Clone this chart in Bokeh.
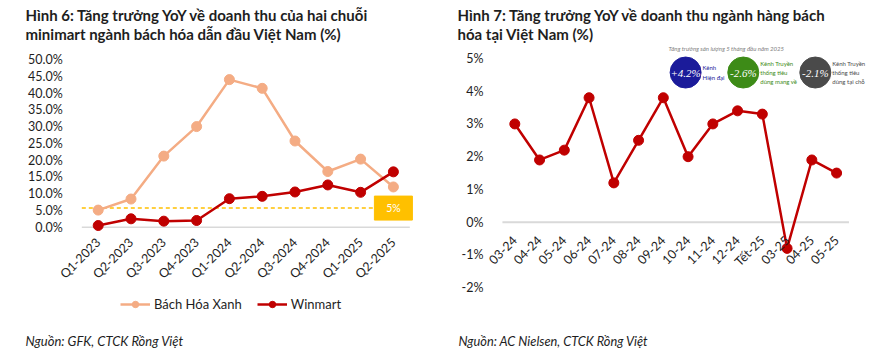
from math import pi
from bokeh.plotting import figure
from bokeh.layouts import row
from bokeh.models import (Range1d, PrintfTickFormatter, FixedTicker, Label, Legend,
                          LegendItem)
from bokeh.core.properties import value
from bokeh.embed import file_html
from bokeh.resources import INLINE

# ---------------- data ----------------
quarters = ["Q1-2023", "Q2-2023", "Q3-2023", "Q4-2023", "Q1-2024",
            "Q2-2024", "Q3-2024", "Q4-2024", "Q1-2025", "Q2-2025"]
bhx = [5.1, 8.4, 21.2, 30.0, 44.0, 41.4, 25.7, 16.6, 20.3, 12.0]
winmart = [0.5, 2.5, 1.8, 2.0, 8.5, 9.2, 10.5, 12.6, 10.4, 16.5]
threshold = 5.7
threshold_label = "5%"
left_yticks = [0, 5, 10, 15, 20, 25, 30, 35, 40, 45, 50]

months = ["03-24", "04-24", "05-24", "06-24", "07-24", "08-24", "09-24",
          "10-24", "11-24", "12-24", "Tết-25", "03-25", "04-25", "05-25"]
industry = [3.0, 1.9, 2.2, 3.8, 1.2, 2.5, 3.8, 2.0, 3.0, 3.4, 3.3, -0.8, 1.9, 1.5]
right_yticks = [-2, -1, 0, 1, 2, 3, 4, 5]

channel_values = ["+4.2%", "-2.6%", "-2.1%"]
channel_names = ["Kênh\nHiện đại", "Kênh Truyền\nthống tiêu\ndùng mang về",
                 "Kênh Truyền\nthống tiêu\ndùng tại chỗ"]
channel_pos = [6.9, 9.23, 12.14]      # position in the month axis units
channel_level = [4.57, 4.57, 4.57]    # position in % units
inset_title = "Tăng trưởng sản lượng 5 tháng đầu năm 2025"

FONT = "Lato"
TXT = "#1e1e1e"
C_BHX = "#F4AC84"
C_WIN = "#C00000"
W, H = 448, 356


def base_fig(xr, yr):
    p = figure(width=W, height=H, x_range=xr, y_range=yr, output_backend="svg",
               toolbar_location=None, min_border=0, min_border_left=0,
               min_border_right=0, min_border_top=0, min_border_bottom=0)
    p.outline_line_color = None
    p.grid.visible = False
    p.border_fill_color = "white"
    for ax in (p.xaxis[0], p.yaxis[0]):
        ax.axis_line_color = None
        ax.major_tick_line_color = None
        ax.minor_tick_line_color = None
        ax.major_label_text_font = FONT
        ax.major_label_text_font_size = "12.5px"
        ax.major_label_text_color = TXT
    p.xaxis.major_label_orientation = pi / 4
    return p


def add_text(p, x, y, text, size, style="normal", color=TXT):
    p.add_layout(Label(x=x, y=H - y, x_units="screen", y_units="screen", text=text,
                       text_font=FONT, text_font_style=style, text_font_size=size,
                       text_color=color, text_baseline="middle"))


# ---------------- left chart ----------------
qx = list(range(len(quarters)))
p1 = base_fig(Range1d(-2.979, 10.68), Range1d(-38.55, 67.59))
p1.yaxis.fixed_location = -0.5
p1.yaxis.ticker = FixedTicker(ticks=left_yticks)
p1.yaxis.formatter = PrintfTickFormatter(format="%.1f%%")
p1.yaxis.major_label_standoff = 13
p1.xaxis.fixed_location = 0
p1.xaxis.ticker = FixedTicker(ticks=qx)
p1.xaxis.major_label_overrides = {i: q for i, q in enumerate(quarters)}
p1.xaxis.major_label_standoff = 7

p1.segment(x0=[-0.5], x1=[len(quarters) - 0.5], y0=[0], y1=[0],
           line_color="#d9d9d9", line_width=1.5)
p1.segment(x0=[-0.5], x1=[len(quarters) - 0.5], y0=[threshold], y1=[threshold],
           line_color="#FFC000", line_width=1.5, line_dash="4 3")

l1 = p1.line(qx, bhx, line_color=C_BHX, line_width=2.5)
s1 = p1.scatter(qx, bhx, size=10, fill_color=C_BHX, line_color=C_BHX)
l2 = p1.line(qx, winmart, line_color=C_WIN, line_width=2.5)
s2 = p1.scatter(qx, winmart, size=10, fill_color=C_WIN, line_color=C_WIN)

p1.rect(x=[qx[-1]], y=[threshold], width=38, height=24, width_units="screen",
        height_units="screen", fill_color="#FFC000", line_color="#FFC000")
p1.text(x=[qx[-1]], y=[threshold], text=[threshold_label], text_color="white",
        text_align="center", text_baseline="middle", text_font=value(FONT),
        text_font_size="10.5px")

leg1 = Legend(items=[LegendItem(label="Bách Hóa Xanh", renderers=[l1, s1]),
                     LegendItem(label="Winmart", renderers=[l2, s2])],
              orientation="horizontal", location=(120, 44), glyph_width=30,
              glyph_height=16, label_height=16,
              label_text_font=FONT, label_text_font_size="13px", label_text_color=TXT,
              border_line_color=None, background_fill_alpha=0, spacing=15,
              padding=0, margin=0, label_standoff=4)
p1.add_layout(leg1)

add_text(p1, 25, 14, "Hình 6: Tăng trưởng YoY về doanh thu của hai chuỗi", "15px", "bold")
add_text(p1, 25, 33, "minimart ngành bách hóa dẫn đầu Việt Nam (%)", "15px", "bold")
add_text(p1, 25, 340, "Nguồn: GFK, CTCK Rồng Việt", "13px", "italic")

# ---------------- right chart ----------------
mx = list(range(len(months)))
p2 = base_fig(Range1d(-2.679, 15.42), Range1d(-4.101, 6.769))
p2.yaxis.fixed_location = -0.5
p2.yaxis.ticker = FixedTicker(ticks=right_yticks)
p2.yaxis.formatter = PrintfTickFormatter(format="%d%%")
p2.yaxis.major_label_standoff = 13
p2.xaxis.fixed_location = 0
p2.xaxis.ticker = FixedTicker(ticks=mx)
p2.xaxis.major_label_overrides = {i: m for i, m in enumerate(months)}
p2.xaxis.major_label_standoff = 10

p2.segment(x0=[-0.5], x1=[len(months) - 0.5], y0=[0], y1=[0],
           line_color="#d9d9d9", line_width=2)
p2.line(mx, industry, line_color=C_WIN, line_width=2.5)
p2.scatter(mx, industry, size=10, fill_color=C_WIN, line_color=C_WIN)

# inset: volume growth by channel
ch_col = ["#1b1b9a", "#3d8b17", "#4a4a4a"]
p2.scatter(channel_pos, channel_level, size=31, fill_color=ch_col, line_color=ch_col)
p2.text(channel_pos, channel_level, text=channel_values, text_color="white",
        text_align="center", text_baseline="middle",
        text_font=value("Liberation Serif"), text_font_style="italic",
        text_font_size="11px")
p2.text(channel_pos, channel_level, text=channel_names, text_color=ch_col,
        x_offset=17, text_align="left", text_baseline="middle", text_font=value(FONT),
        text_font_size="6px", text_line_height=1.3)
p2.text([channel_pos[0]], [channel_level[0]], text=[inset_title], text_color="#808080",
        x_offset=-17, y_offset=-24, text_align="left", text_baseline="middle",
        text_font=value(FONT), text_font_style="italic", text_font_size="6px")

add_text(p2, 9, 14, "Hình 7: Tăng trưởng YoY về doanh thu ngành hàng bách", "15px", "bold")
add_text(p2, 9, 33, "hóa tại Việt Nam (%)", "15px", "bold")
add_text(p2, 10, 340, "Nguồn: AC Nielsen, CTCK Rồng Việt", "12.8px", "italic")

layout = row(p1, p2)
open("out.html", "w").write(file_html(layout, INLINE))
